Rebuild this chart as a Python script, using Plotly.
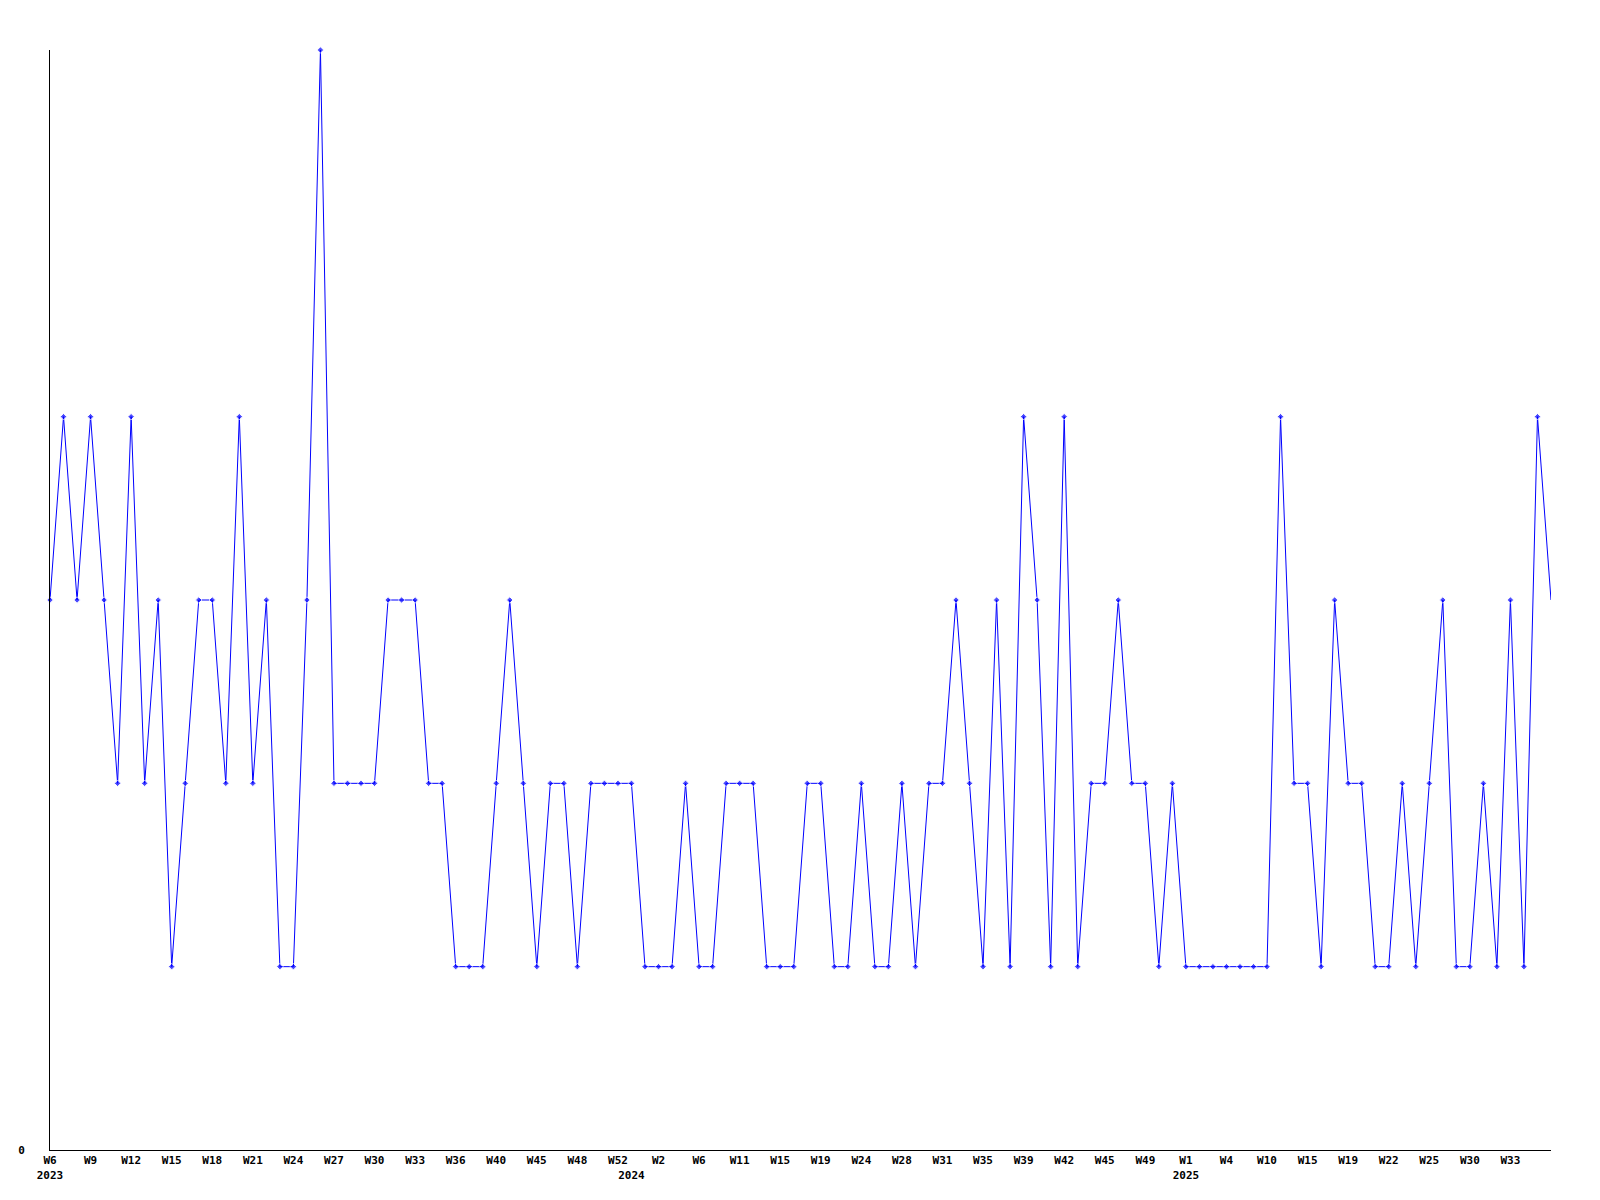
"""
Weekly count line chart (2023-2025) with Plotly.
"""

import plotly.graph_objects as go

# week keys, one per point (only every third one is labelled on the axis)
weeks = [
    "2023-W6", "2023-W7", "2023-W8", "2023-W9", "2023-W10", "2023-W11", "2023-W12",
    "2023-W13", "2023-W14", "2023-W15", "2023-W16", "2023-W17", "2023-W18", "2023-W19",
    "2023-W20", "2023-W21", "2023-W22", "2023-W23", "2023-W24", "2023-W25", "2023-W26",
    "2023-W27", "2023-W28", "2023-W29", "2023-W30", "2023-W31", "2023-W32", "2023-W33",
    "2023-W34", "2023-W35", "2023-W36", "2023-W37", "2023-W39", "2023-W40", "2023-W42",
    "2023-W43", "2023-W45", "2023-W46", "2023-W47", "2023-W48", "2023-W49", "2023-W51",
    "2023-W52",
    "2024-W0", "2024-W1", "2024-W2", "2024-W3", "2024-W5", "2024-W6", "2024-W8",
    "2024-W9", "2024-W11", "2024-W12", "2024-W14", "2024-W15", "2024-W17", "2024-W18",
    "2024-W19", "2024-W21", "2024-W23", "2024-W24", "2024-W26", "2024-W27", "2024-W28",
    "2024-W29", "2024-W30", "2024-W31", "2024-W33", "2024-W34", "2024-W35", "2024-W37",
    "2024-W38", "2024-W39", "2024-W40", "2024-W41", "2024-W42", "2024-W43", "2024-W44",
    "2024-W45", "2024-W47", "2024-W48", "2024-W49", "2024-W50", "2024-W52",
    "2025-W1", "2025-W2", "2025-W3", "2025-W4", "2025-W6", "2025-W8", "2025-W10",
    "2025-W12", "2025-W13", "2025-W15", "2025-W17", "2025-W18", "2025-W19", "2025-W20",
    "2025-W21", "2025-W22", "2025-W23", "2025-W24", "2025-W25", "2025-W27", "2025-W28",
    "2025-W30", "2025-W31", "2025-W32", "2025-W33", "2025-W34", "2025-W35", "2025-W36",
]

counts = [
    3, 4, 3, 4, 3, 2, 4, 2, 3, 1, 2, 3, 3, 2, 4, 2, 3, 1, 1, 3,
    6,
    2, 2, 2, 2, 3, 3, 3, 2, 2, 1, 1, 1, 2, 3, 2, 1, 2, 2,
    1, 2, 2, 2, 2, 1, 1, 1, 2, 1, 1, 2, 2, 2, 1, 1, 1, 2, 2,
    1, 1, 2, 1, 1, 2, 1, 2, 2, 3, 2, 1, 3, 1, 4, 3, 1, 4, 1, 2,
    2, 3, 2, 2, 1, 2, 1, 1, 1, 1, 1, 1, 1, 4, 2, 2, 1, 3, 2,
    2, 1, 1, 2, 1, 2, 3, 1, 1, 2, 1, 3, 1, 4, 3,
]

# year captions go under the first week of each year
year_starts = {"2023-W6": "2023", "2024-W0": "2024", "2025-W1": "2025"}

FONT = dict(family="DejaVu Sans Mono", size=11, color="black", weight="bold")

# axis ticks: every third week (not the last point), plus the year captions
tickvals, ticktext = [], []
for i, wk in enumerate(weeks):
    show_week = i % 3 == 0 and i < len(weeks) - 1
    label = "W" + wk.split("-W")[1] if show_week else ""
    year = year_starts.get(wk)
    if not label and not year:
        continue
    tickvals.append(wk)
    ticktext.append(label + ("<br>" + year if year else ""))

# last point sits on the plot edge and has no marker drawn
sizes = [5] * (len(counts) - 1) + [0]

fig = go.Figure()
fig.add_trace(go.Scatter(
    x=weeks,
    y=counts,
    mode="lines+markers",
    line=dict(color="#0000ff", width=1),
    marker=dict(color="#0000ff", size=sizes, symbol="diamond"),
    cliponaxis=False,
    showlegend=False,
))

# page body adds an 8px offset, margins are trimmed to compensate
fig.update_layout(
    width=1600, height=1200,
    margin=dict(l=42, r=57, t=42, b=58),
    paper_bgcolor="white",
    plot_bgcolor="white",
    font=FONT,
)
fig.update_xaxes(
    type="category",
    range=[0, len(weeks) - 1],
    tickmode="array",
    tickvals=tickvals,
    ticktext=ticktext,
    tickangle=0,
    ticks="",
    showgrid=False,
    zeroline=False,
    showline=True,
    linecolor="black",
    linewidth=1,
    tickfont=FONT,
    automargin=False,
)
fig.update_yaxes(
    range=[0, 6],
    tickmode="array",
    tickvals=[0],
    ticktext=["0"],
    ticks="",
    ticklabelstandoff=22,
    showgrid=False,
    zeroline=False,
    showline=True,
    linecolor="black",
    linewidth=1,
    tickfont=FONT,
    automargin=False,
)

fig.write_html("out.html")
